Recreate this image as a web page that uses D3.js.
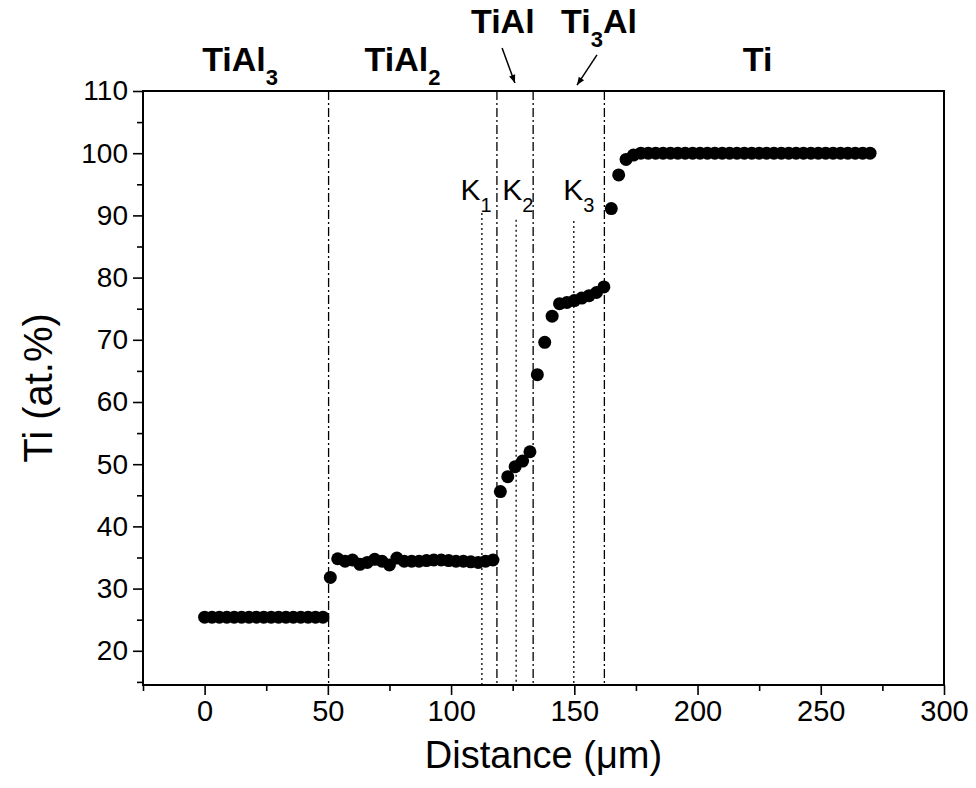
<!DOCTYPE html>
<html><head><meta charset="utf-8">
<script src="https://cdn.jsdelivr.net/npm/d3@7"></script>
<style>body{margin:0;background:#fff}svg{display:block}text{font-family:Arial,"Liberation Sans",sans-serif;fill:#000}</style>
</head><body>
<svg id="c" width="976" height="788"></svg>
<script>
// ---- data ----
const distance = [0,3,6,9,12,15,18,21,24,27,30,33,36,39,42,45,48,
  51,
  54,57,60,63,66,69,72,75,78,81,84,87,90,93,96,99,102,105,108,111,114,117,
  120,123,126,129,132,
  135,138,141,
  144,147,150,153,156,159,162,
  165,168,171,174,
  177,180,183,186,189,192,195,198,201,204,207,210,213,216,219,222,225,228,231,234,237,240,243,246,249,252,255,258,261,264,267,270];
const tiContent = [25.4,25.4,25.4,25.4,25.4,25.4,25.4,25.4,25.4,25.4,25.4,25.4,25.4,25.4,25.4,25.4,25.4,
  31.8,
  34.8,34.4,34.6,33.9,34.2,34.7,34.4,33.8,34.9,34.4,34.4,34.4,34.5,34.6,34.6,34.5,34.4,34.4,34.3,34.2,34.4,34.6,
  45.6,48.0,49.6,50.5,52.0,
  64.4,69.6,73.8,
  75.8,76.0,76.3,76.7,77.1,77.6,78.5,
  91.1,96.5,99.0,99.7,
  100,100,100,100,100,100,100,100,100,100,100,100,100,100,100,100,100,100,100,100,100,100,100,100,100,100,100,100,100,100,100,100];
const phaseBounds = [50.3, 118.6, 133.3, 162.2];      // dash-dot lines
const kLines = [112.5, 126.4, 149.8];                 // dotted lines
const kLineTops = [90.4, 89.3, 89.1];
const kLabels = [{n:"1", x:103.8},{n:"2", x:120.8},{n:"3", x:145.5}];
const phaseLabels = [
  {main:"TiAl", sub:"3", x:14.4, y:113.2},
  {main:"TiAl", sub:"2", x:80.3, y:113.2},
  {main:"TiAl", sub:"",  x:121,  y:119.3},
  {main:"Ti", sub:"3", after:"Al", x:160, y:119.3},
  {main:"Ti", sub:"",  x:224.4, y:113.2}
];
const arrows = [
  {x1:120.7, y1:116.9, x2:125.9, y2:111.3},
  {x1:159.2, y1:115.8, x2:151.1, y2:110.95}
];
const xTicks = [0,50,100,150,200,250,300];
const xMinor = [-25,25,75,125,175,225,275];
const yTicks = [20,30,40,50,60,70,80,90,100,110];
const yMinor = [15,25,35,45,55,65,75,85,95,105];

// ---- layout ----
const L=143, R=944, T=91, B=685;
const x = d3.scaleLinear().domain([-25,300]).range([L,R]);
const y = d3.scaleLinear().domain([14.5,110]).range([B,T]);
const svg = d3.select("#c");

// vertical lines
svg.selectAll(".pb").data(phaseBounds).join("line")
  .attr("x1",d=>x(d)).attr("x2",d=>x(d)).attr("y1",T).attr("y2",B)
  .attr("stroke","#000").attr("stroke-width",1.3).attr("stroke-dasharray","9,3,2,3");
svg.selectAll(".kl").data(kLines).join("line")
  .attr("x1",d=>x(d)).attr("x2",d=>x(d)).attr("y1",(d,i)=>y(kLineTops[i])).attr("y2",B)
  .attr("stroke","#000").attr("stroke-width",1.3).attr("stroke-dasharray","2,3");

// points
svg.append("g").selectAll("circle").data(distance).join("circle")
  .attr("cx",d=>x(d)).attr("cy",(d,i)=>y(tiContent[i])).attr("r",6.5).attr("fill","#000");

// axes
const gx = svg.append("g").attr("transform",`translate(0,${B})`)
  .call(d3.axisBottom(x).tickValues(xTicks).tickSize(10).tickPadding(5).tickFormat(d3.format("d")));
svg.append("g").attr("transform",`translate(0,${B})`)
  .call(d3.axisBottom(x).tickValues(xMinor).tickSize(6).tickFormat(""));
const gy = svg.append("g").attr("transform",`translate(${L},0)`)
  .call(d3.axisLeft(y).tickValues(yTicks).tickSize(10).tickPadding(5).tickFormat(d3.format("d")));
svg.append("g").attr("transform",`translate(${L},0)`)
  .call(d3.axisLeft(y).tickValues(yMinor).tickSize(6).tickFormat(""));
svg.selectAll(".domain").remove();
svg.selectAll(".tick line").attr("stroke","#000").attr("stroke-width",1.6);
gx.selectAll("text").attr("font-size",29).attr("font-family","Arial,'Liberation Sans',sans-serif");
gy.selectAll("text").attr("font-size",28).attr("font-family","Arial,'Liberation Sans',sans-serif");

// frame
svg.append("rect").attr("x",L).attr("y",T).attr("width",R-L).attr("height",B-T)
  .attr("fill","none").attr("stroke","#000").attr("stroke-width",2);

// axis titles
svg.append("text").attr("x",(L+R)/2).attr("y",768).attr("text-anchor","middle")
  .attr("font-size",38).text("Distance (μm)");
svg.append("text").attr("transform",`translate(52,${(T+B)/2}) rotate(-90)`).attr("text-anchor","middle")
  .attr("font-size",40).text("Ti (at.%)");

// K labels
kLabels.forEach(k=>{
  const t = svg.append("text").attr("x",x(k.x)).attr("y",y(92.5)).attr("font-size",30);
  t.append("tspan").text("K");
  t.append("tspan").attr("font-size",20).attr("dy",12).text(k.n);
});

// phase labels
phaseLabels.forEach(p=>{
  const t = svg.append("text").attr("x",x(p.x)).attr("y",y(p.y)).attr("text-anchor","middle")
    .attr("font-size",34).attr("font-weight","bold");
  t.append("tspan").text(p.main);
  if(p.sub){ t.append("tspan").attr("font-size",22).attr("dy",14).text(p.sub); }
  if(p.after){ t.append("tspan").attr("dy",-14).text(p.after); }
});

// arrows
const defs = svg.append("defs");
defs.append("marker").attr("id","ah").attr("viewBox","0 0 10 10").attr("refX",10).attr("refY",5)
  .attr("markerWidth",13).attr("markerHeight",8).attr("markerUnits","userSpaceOnUse").attr("orient","auto")
  .append("path").attr("d","M0,1 L10,5 L0,9 Z").attr("fill","#000");
svg.selectAll(".ar").data(arrows).join("line")
  .attr("x1",d=>x(d.x1)).attr("y1",d=>y(d.y1)).attr("x2",d=>x(d.x2)).attr("y2",d=>y(d.y2))
  .attr("stroke","#000").attr("stroke-width",1.5).attr("marker-end","url(#ah)");
</script>
</body></html>
